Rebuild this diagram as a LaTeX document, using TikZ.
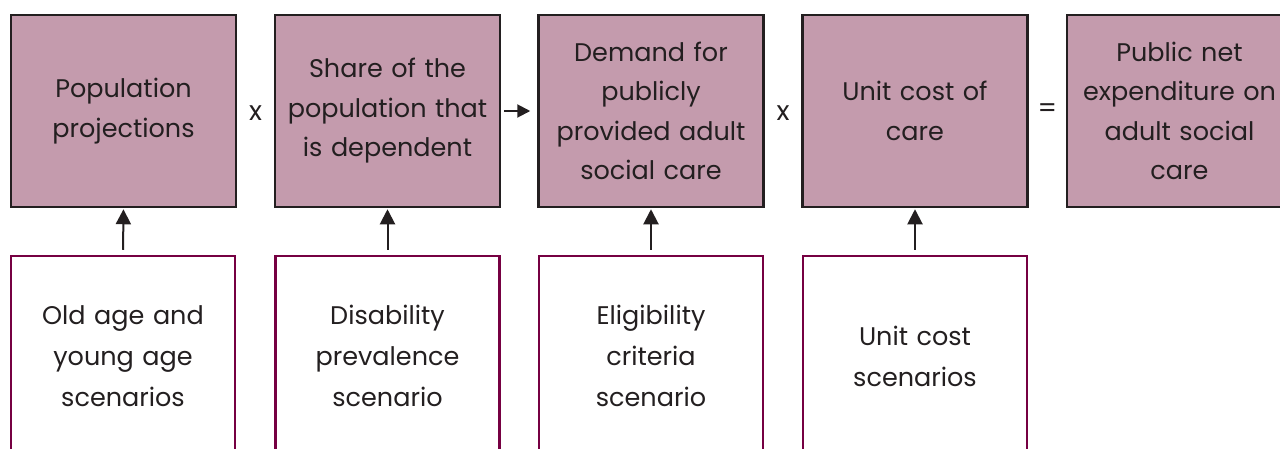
\documentclass[tikz,border=0pt]{standalone}
\usepackage{fontspec}
\setmainfont{Poppins}
\usetikzlibrary{arrows.meta,calc}
\definecolor{mauve}{HTML}{C49BAD}
\definecolor{darkline}{HTML}{231F20}
\definecolor{plum}{HTML}{760042}
\tikzset{
  topbox/.style={draw=darkline, line width=2.5pt, fill=mauve, minimum width=225pt, minimum height=192pt,
    text width=220pt, align=center, inner sep=0pt, text=darkline, font=\fontsize{25.5}{39.5}\selectfont},
  botbox/.style={draw=plum, line width=2.5pt, fill=white, minimum width=224pt, minimum height=200pt,
    text width=220pt, align=center, inner sep=0pt, text=darkline, font=\fontsize{25.5}{41}\selectfont},
  opsym/.style={text=darkline, font=\fontsize{27}{27}\selectfont, inner sep=0pt},
  uparrow/.style={draw=darkline, line width=2pt, -{Triangle[width=15pt,length=15pt]}},
}
\begin{document}
\begin{tikzpicture}[x=1pt,y=-1pt]
\useasboundingbox (0,0) rectangle (1280,448);
\node[topbox] (t1) at (123.5,111) {Population\\projections\\[6pt]};
\node[topbox] (t2) at (387.5,111) {Share of the\\population that\\is dependent\\[6pt]};
\node[topbox] (t3) at (651,111) {Demand for\\publicly\\provided adult\\social care};
\node[topbox] (t4) at (915,111) {Unit cost of\\care\\[6pt]};
\node[topbox] (t5) at (1179.5,111) {Public net\\expenditure on\\adult social\\care};
\node[botbox] (b1) at (123,356) {Old age and\\young age\\scenarios};
\node[botbox] (b2) at (387.5,356) {Disability\\prevalence\\scenario};
\node[botbox] (b3) at (651,356) {Eligibility\\criteria\\scenario};
\node[botbox] (b4) at (915,356) {Unit cost\\scenarios};
\node[opsym] (m1) at ($(t1.east)!0.5!(t2.west)+(0,2)$) {x};
\node[opsym] (m2) at ($(t3.east)!0.5!(t4.west)+(0,2)$) {x};
\node[opsym] (eq) at ($(t4.east)!0.5!(t5.west)$) {=};
\draw[draw=darkline, line width=2pt, -{Triangle[width=13pt,length=13pt]}, shorten <=3pt, shorten >=7pt] (t2.east) -- (t3.west);
\foreach \i in {1,2,3,4}{
  \draw[uparrow, shorten <=5pt, shorten >=1pt] (b\i.north) -- (t\i.south);
}
\end{tikzpicture}
\end{document}
